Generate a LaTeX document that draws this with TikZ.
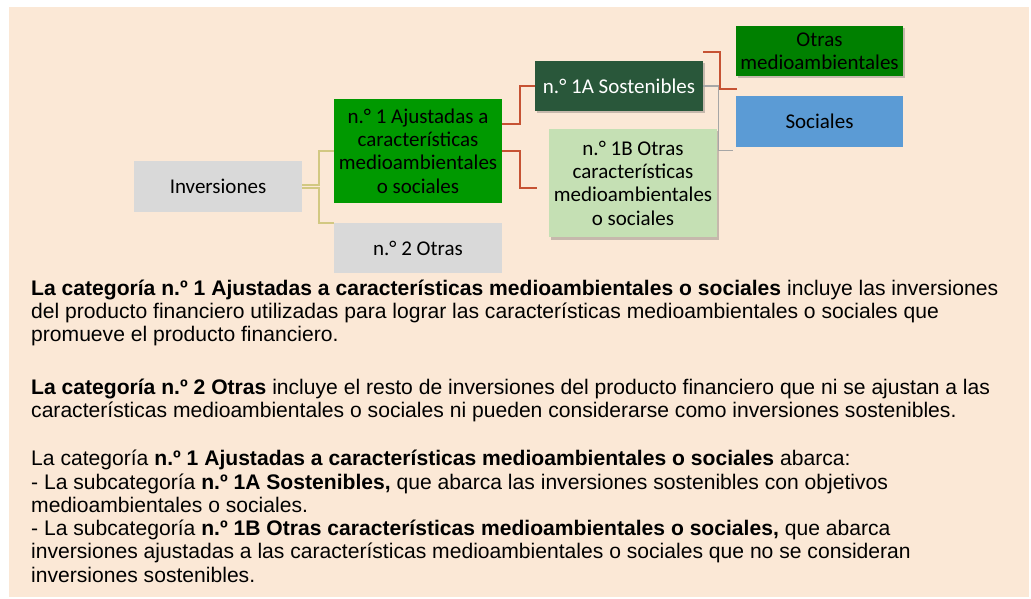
\documentclass[tikz,border=0pt]{standalone}
\usepackage{fontspec}
\setmainfont{Liberation Sans}
\newfontfamily\boxfont{Carlito}
\usetikzlibrary{shadows}
\definecolor{peach}{HTML}{FBE8D6}
\definecolor{boxgrey}{HTML}{D9D9D9}
\definecolor{catgreen}{HTML}{009900}
\definecolor{susgreen}{HTML}{29573A}
\definecolor{othgreen}{HTML}{C5E0B4}
\definecolor{envgreen}{HTML}{008000}
\definecolor{socblue}{HTML}{5B9BD5}
\definecolor{linkolive}{HTML}{D2C882}
\definecolor{linkred}{HTML}{C65233}
\definecolor{linkgrey}{HTML}{A6A6A6}
\tikzset{
  catnode/.style   = {shape=rectangle, inner sep=0pt, align=center,
                      minimum width=168pt, minimum height=50pt,
                      font=\boxfont\fontsize{21}{23.3}\selectfont},
  greynode/.style  = {catnode, fill=boxgrey},
  shadenode/.style = {catnode, drop shadow={shadow xshift=1.5pt,
                      shadow yshift=-2.5pt, opacity=0.3, fill=black!70}},
  olivelink/.style = {draw=linkolive, line width=1.6pt},
  redlink/.style   = {draw=linkred, line width=1.8pt},
  greylink/.style  = {draw=linkgrey, line width=1.4pt},
  bodytext/.style  = {anchor=base west, align=left, inner sep=0pt,
                      font=\fontsize{21.1}{23.3}\selectfont}
}
\begin{document}
\begin{tikzpicture}[x=1pt,y=-1pt]
  \useasboundingbox (0,0) rectangle (1031,599);
  \fill[peach] (9,7) rectangle (1029,597);

  % tree of categories
  \node[greynode, minimum height=51pt] (inv) at (218,186.5) {Inversiones};
  \node[catnode, fill=catgreen, minimum height=104pt] (cat1) at (418,151)
    {n.° 1 Ajustadas a\\características\\medioambientales\\o sociales};
  \node[greynode] (cat2) at (418,248) {n.° 2 Otras};
  \node[shadenode, fill=susgreen, text=white] (sub1a) at (619,86) {n.° 1A Sostenibles};
  \node[shadenode, fill=othgreen, minimum height=108pt] (sub1b) at (633,183)
    {n.° 1B Otras\\características\\medioambientales\\o sociales};
  \node[shadenode, fill=envgreen, minimum width=167pt] (env) at (819.5,51)
    {Otras\\medioambientales};
  \node[catnode, fill=socblue, minimum width=167pt, minimum height=51pt] (soc)
    at (819.5,121.5) {Sociales};

  \coordinate (end1b) at ([xshift=-12pt,yshift=-5pt]sub1b.west);
  \coordinate (envstart) at ([yshift=34pt]sub1a.east);
  \coordinate (envend) at ([xshift=1.5pt,yshift=-12.5pt]env.south west);
  \coordinate (socend) at ([xshift=-3pt,yshift=-3.5pt]soc.south west);

  \draw[olivelink] ([yshift=1.6pt]inv.east) -- ++(17,0) |- (cat1.west);
  \draw[olivelink] ([yshift=-1.6pt]inv.east) -- ++(17,0) |- (cat2.north west);
  \draw[redlink] ([yshift=27pt]cat1.east) -- ++(18,0) |- (sub1a.west);
  \draw[redlink] (cat1.east) -- ++(18,0) |- (end1b);
  \draw[redlink] (envstart) -- ++(17,0) |- (envend);
  \draw[greylink] (sub1a.east) -- ++(15,0) |- (socend);

  % explanations (anchored on the baseline of their last line)
  \node[bodytext] (par1) at (31,341.6)
    {\textbf{La categoría n.º 1 Ajustadas a características medioambientales o sociales} incluye las inversiones\\
     del producto financiero utilizadas para lograr las características medioambientales o sociales que\\
     promueve el producto financiero.};
  \node[bodytext] (par2) at (31,417.3)
    {\textbf{La categoría n.º 2 Otras} incluye el resto de inversiones del producto financiero que ni se ajustan a las\\
     características medioambientales o sociales ni pueden considerarse como inversiones sostenibles.};
  \node[bodytext] (par3) at (31,582.2)
    {La categoría \textbf{n.º 1 Ajustadas a características medioambientales o sociales} abarca:\\
     - La subcategoría \textbf{n.º 1A Sostenibles,} que abarca las inversiones sostenibles con objetivos\\
     medioambientales o sociales.\\
     - La subcategoría \textbf{n.º 1B Otras características medioambientales o sociales,} que abarca\\
     inversiones ajustadas a las características medioambientales o sociales que no se consideran\\
     inversiones sostenibles.};
\end{tikzpicture}
\end{document}
